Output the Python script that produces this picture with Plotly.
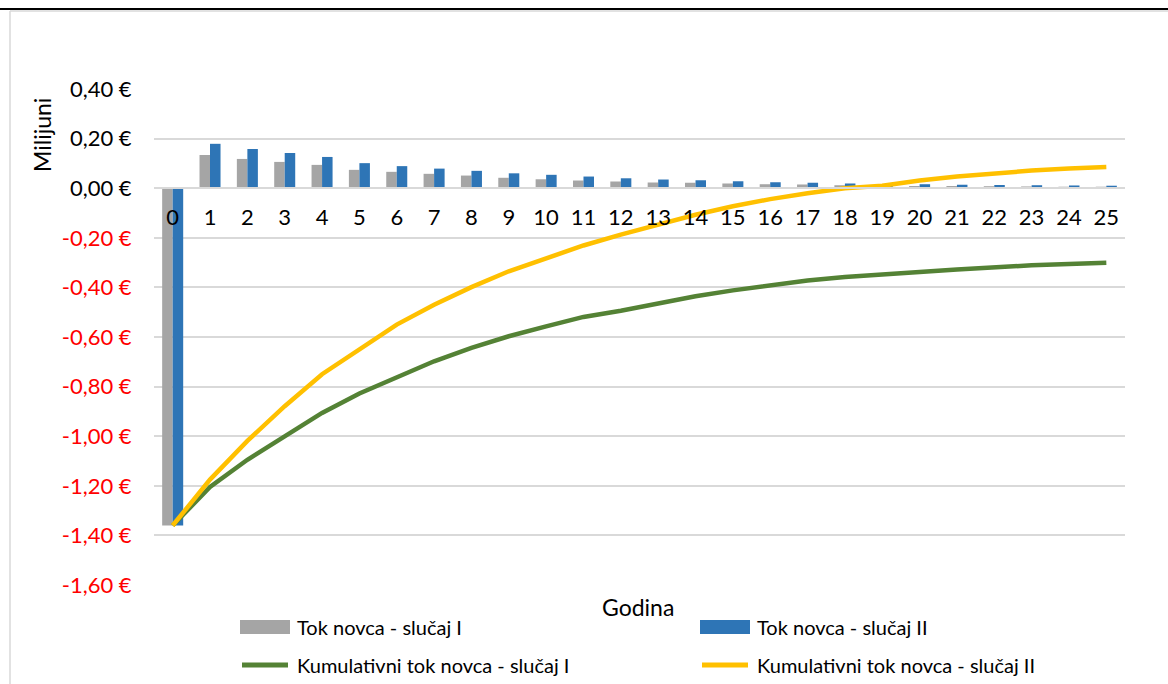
import plotly.graph_objects as go

years = list(range(26))
year_labels = [str(y) for y in years]

# Annual cash flow (millions €)
cash_flow_I = [-1.36, 0.134, 0.118, 0.106, 0.094, 0.074, 0.066, 0.058, 0.051, 0.042,
               0.036, 0.031, 0.027, 0.023, 0.022, 0.019, 0.016, 0.015, 0.012, 0.011,
               0.009, 0.009, 0.008, 0.007, 0.006, 0.006]
cash_flow_II = [-1.36, 0.179, 0.158, 0.142, 0.126, 0.101, 0.089, 0.079, 0.070, 0.060,
                0.054, 0.047, 0.040, 0.035, 0.032, 0.028, 0.024, 0.022, 0.019, 0.017,
                0.016, 0.014, 0.013, 0.012, 0.011, 0.010]

# Cumulative cash flow (millions €)
cumulative_I = [-1.36, -1.205, -1.095, -0.999, -0.906, -0.828, -0.765, -0.698, -0.644, -0.597,
                -0.557, -0.519, -0.494, -0.463, -0.436, -0.412, -0.390, -0.372, -0.358, -0.350,
                -0.338, -0.328, -0.319, -0.311, -0.306, -0.301]
cumulative_II = [-1.36, -1.175, -1.019, -0.879, -0.750, -0.650, -0.550, -0.470, -0.399, -0.335,
                 -0.281, -0.231, -0.187, -0.147, -0.107, -0.073, -0.044, -0.020, 0.000, 0.010,
                 0.031, 0.047, 0.060, 0.071, 0.079, 0.085]

y_tick_values = [0.4, 0.2, 0.0, -0.2, -0.4, -0.6, -0.8, -1.0, -1.2, -1.4, -1.6]

names = ["Tok novca - slučaj I", "Tok novca - slučaj II",
         "Kumulativni tok novca - slučaj I", "Kumulativni tok novca - slučaj II"]
colors = ["#A5A5A5", "#2E75B6", "#548235", "#FFC000"]

FONT = "Lato"
W, H = 1168, 684
ML, MR, MT, MB = 154, 43, 89, 99
PW, PH = W - ML - MR, H - MT - MB


def px_x(x):
    return (x - ML) / PW


def px_y(y):
    return (H - MB - y) / PH


def fmt(v):
    s = f"{v:.2f}".replace(".", ",") + " €"
    if s.startswith("-0,00"):
        s = s[1:]
    if v < -1e-9:
        return f'<span style="color:#FF0000">{s}</span>'
    return s


y_tick_text = [fmt(v) for v in y_tick_values]

fig = go.Figure()

fig.add_trace(go.Bar(x=years, y=cash_flow_I, marker=dict(color=colors[0], line=dict(width=0)),
                     name=names[0]))
fig.add_trace(go.Bar(x=years, y=cash_flow_II, marker=dict(color=colors[1], line=dict(width=0)),
                     name=names[1]))
fig.add_trace(go.Scatter(x=years, y=cumulative_I, mode="lines",
                         line=dict(color=colors[2], width=4.5), name=names[2]))
fig.add_trace(go.Scatter(x=years, y=cumulative_II, mode="lines",
                         line=dict(color=colors[3], width=4.5), name=names[3]))

fig.update_layout(
    width=W, height=H,
    margin=dict(l=ML, r=MR, t=MT, b=MB),
    paper_bgcolor="white", plot_bgcolor="white",
    font=dict(family=FONT, size=20, color="#000000"),
    barmode="group", bargap=0.437, bargroupgap=0,
    showlegend=False,
    xaxis=dict(
        range=[-0.5, 25.5], tickmode="array", tickvals=years, ticktext=year_labels,
        anchor="free", position=0.8, showline=True, linecolor="#D9D9D9", linewidth=1.5,
        showgrid=False, zeroline=False, ticks="outside", ticklen=10,
        tickcolor="rgba(0,0,0,0)", tickfont=dict(family=FONT, size=22, color="#000000"),
    ),
    yaxis=dict(
        range=[-1.6, 0.4], domain=[0, 1], tickmode="array", tickvals=y_tick_values,
        ticktext=y_tick_text, showgrid=True, gridcolor="#D9D9D9", gridwidth=1.5,
        zeroline=False, showline=False, ticks="outside", ticklen=17,
        tickcolor="rgba(0,0,0,0)", tickfont=dict(family=FONT, size=22, color="#000000"),
    ),
)

fig.add_annotation(text="Milijuni", xref="paper", yref="paper",
                   x=px_x(42), y=px_y(135), textangle=-90,
                   showarrow=False, font=dict(family=FONT, size=23, color="#000000"),
                   xanchor="center", yanchor="middle")
fig.add_annotation(text="Godina", xref="paper", yref="paper",
                   x=px_x(638), y=px_y(607),
                   showarrow=False, font=dict(family=FONT, size=23, color="#000000"),
                   xanchor="center", yanchor="middle")

# legend (drawn manually to match wide keys and two-row layout)
legend_pos = [(240, 627), (700, 627), (240, 665), (700, 665)]
for i, (lx, ly) in enumerate(legend_pos):
    if i < 2:
        fig.add_shape(type="rect", xref="paper", yref="paper",
                      x0=px_x(lx), x1=px_x(lx + 50), y0=px_y(ly - 7), y1=px_y(ly + 7),
                      line=dict(width=0), fillcolor=colors[i])
    else:
        fig.add_shape(type="line", xref="paper", yref="paper",
                      x0=px_x(lx + 2), x1=px_x(lx + 48), y0=px_y(ly), y1=px_y(ly),
                      line=dict(color=colors[i], width=5))
    fig.add_annotation(text=names[i], xref="paper", yref="paper",
                       x=px_x(lx + 55), y=px_y(ly), xanchor="left", yanchor="middle",
                       showarrow=False, font=dict(family=FONT, size=20, color="#000000"))

# chart frame
fig.add_shape(type="line", xref="paper", yref="paper",
              x0=px_x(0), x1=px_x(W), y0=px_y(9), y1=px_y(9),
              line=dict(color="#000000", width=2))
fig.add_shape(type="line", xref="paper", yref="paper",
              x0=px_x(10), x1=px_x(W), y0=px_y(11), y1=px_y(11),
              line=dict(color="#D9D9D9", width=1.5))
fig.add_shape(type="line", xref="paper", yref="paper",
              x0=px_x(10), x1=px_x(10), y0=px_y(11), y1=px_y(H),
              line=dict(color="#D9D9D9", width=1.5))

fig.write_html("out.html", config={"displayModeBar": False},
               post_script="document.body.style.margin='0';")
